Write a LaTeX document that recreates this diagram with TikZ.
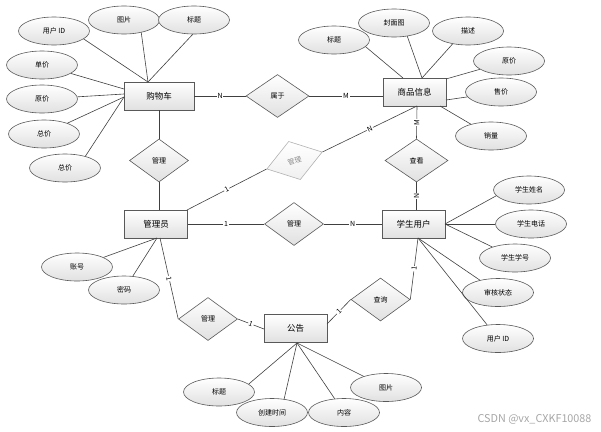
\documentclass[tikz,border=0pt]{standalone}
\usepackage{fontspec}
\setmainfont{Noto Sans CJK SC}
\usetikzlibrary{shapes.geometric}
\tikzset{
 ent/.style={rectangle, draw=black!65, line width=0.8pt, top color=white, bottom color=black!12, minimum width=63pt, minimum height=28pt, inner sep=0pt, font=\fontsize{8.5}{9}\selectfont},
 attr/.style={ellipse, draw=black!65, line width=0.6pt, top color=white, bottom color=black!12, minimum width=71pt, minimum height=28pt, inner sep=0pt, font=\fontsize{7}{8}\selectfont},
 rel/.style={diamond, draw=black!65, line width=0.6pt, top color=white, bottom color=black!12, minimum width=59pt, minimum height=43pt, inner sep=0pt, font=\fontsize{7}{8}\selectfont},
 link/.style={draw=black!75, line width=0.6pt},
 card/.style={fill=white, inner sep=0.8pt, font=\fontsize{7}{8}\selectfont},
}
\begin{document}
\begin{tikzpicture}[x=1pt,y=-1pt]
\useasboundingbox (0,0) rectangle (601,431);
% entities
\node[ent, minimum width=70pt] (cart) at (159,96) {购物车};
\node[ent] (goods) at (414.5,92) {商品信息};
\node[ent] (admin) at (156,224) {管理员};
\node[ent] (stu) at (413.5,224) {学生用户};
\node[ent] (notice) at (295.5,328.5) {公告};
% relations
\node[rel, minimum width=63pt] (shuyu) at (277.5,96) {属于};
\node[rel] (gl1) at (159,160.5) {管理};
\node[rel, draw=black!30, top color=white, bottom color=black!6, text=black!45, rotate=17, minimum width=58pt, minimum height=40pt] (gl2) at (294.5,160.5) {管理};
\node[rel] (gl3) at (294,224) {管理};
\node[rel, minimum width=63pt] (chakan) at (416.5,160.5) {查看};
\node[rel] (chaxun) at (380.5,299.5) {查询};
\node[rel] (gl4) at (208,319) {管理};
% cart attributes
\node[attr] (cuid) at (54,31) {用户 ID};
\node[attr] (cpic) at (124,20) {图片};
\node[attr] (ctitle) at (194,20) {标题};
\node[attr] (cunit) at (42,65) {单价};
\node[attr] (corig) at (42,99) {原价};
\node[attr] (ctot1) at (44,134) {总价};
\node[attr] (ctot2) at (65,168) {总价};
% goods attributes
\node[attr] (gtitle) at (334,40) {标题};
\node[attr] (gcover) at (394,23) {封面图};
\node[attr] (gdesc) at (468,31) {描述};
\node[attr] (gorig) at (509,61) {原价};
\node[attr] (gsale) at (501,92) {售价};
\node[attr] (gsold) at (491,136) {销量};
% student attributes
\node[attr] (sname) at (529,190) {学生姓名};
\node[attr] (sphone) at (531,224) {学生电话};
\node[attr] (sno) at (515,258) {学生学号};
\node[attr] (sstate) at (498,292.5) {审核状态};
\node[attr] (suid) at (498,338.5) {用户 ID};
% admin attributes
\node[attr] (acc) at (77,267) {账号};
\node[attr] (pwd) at (124,290) {密码};
% notice attributes
\node[attr] (ntitle) at (219,392) {标题};
\node[attr] (ntime) at (272,412.5) {创建时间};
\node[attr] (ncont) at (344,412.5) {内容};
\node[attr] (npic) at (386,387.5) {图片};
% attach points
\coordinate (cT) at (148,82);
\coordinate (cL1) at (124,89);
\coordinate (cL2) at (124,94);
\coordinate (cL3) at (124,97);
\coordinate (gT1) at (403,78);
\coordinate (gT2) at (422,78);
\coordinate (gR1) at (446,79);
\coordinate (gR2) at (446,100);
\coordinate (gB1) at (440,106);
\coordinate (gB) at (417,106);
\coordinate (sR) at (445,224);
\coordinate (sB) at (418,238);
\coordinate (aB1) at (157,238);
\coordinate (aB2) at (160,238);
\coordinate (aTR) at (187,210);
\coordinate (nB) at (297,343);
\coordinate (nR) at (327,324);
\coordinate (nL) at (264,329);
% attribute links
\draw[link] (cuid.-15) -- (cT);
\draw[link] (cpic.-36) -- (cT);
\draw[link] (ctitle.-95) -- (cT);
\draw[link] (cunit) -- (cL1);
\draw[link] (corig) -- (cL2);
\draw[link] (ctot1) -- (cL3);
\draw[link] (ctot2.30) -- (cL3);
\draw[link] (gtitle.-12) -- (gT1);
\draw[link] (gcover.-45) -- (gT2);
\draw[link] (gdesc.-140) -- (gT2);
\draw[link] (gorig) -- (gR1);
\draw[link] (gsale) -- (gR2);
\draw[link] (gsold) -- (gB1);
\draw[link] (sname.190) -- (sR);
\draw[link] (sphone) -- (sR);
\draw[link] (sno) -- (sR);
\draw[link] (sstate) -- (sB);
\draw[link] (suid) -- (sB);
\draw[link] (acc) -- (aB1);
\draw[link] (pwd) -- (aB1);
\draw[link] (ntitle.15) -- (nB);
\draw[link] (ntime.48) -- (nB);
\draw[link] (ncont) -- (nB);
\draw[link] (npic) -- (nB);
% relationship links
\draw[link] (cart.east) -- node[card]{N} (shuyu.west);
\draw[link] (shuyu.east) -- node[card]{M} (shuyu.east -| goods.west);
\draw[link] (cart.south -| gl1) -- (gl1.north);
\draw[link] (gl1.south) -- (gl1.south |- admin.north);
\draw[link] (aTR) -- node[card, sloped]{1} (gl2.west);
\draw[link] (gl2.east) -- node[card, sloped]{N} (gB);
\draw[link] (admin.east) -- node[card]{1} (gl3.west);
\draw[link] (gl3.east) -- node[card]{N} (stu.west);
\draw[link] (gB) -- node[card, rotate=90]{M} (chakan.north);
\draw[link] (chakan.south) -- node[card, rotate=90]{N} (chakan.south |- stu.north);
\draw[link] (sB) -- node[card, sloped]{1} (chaxun.east);
\draw[link] (chaxun.west) -- node[card, sloped]{1} (nR);
\draw[link] (aB2) -- node[card, sloped]{1} (gl4.west);
\draw[link] (gl4.east) -- node[card, sloped]{1} (nL);
% watermark
\node[text=black!35, font=\fontsize{10.8}{12}\selectfont, inner sep=0pt] (wm) at (534.5,419) {CSDN @vx\_CXKF10088};
\end{tikzpicture}
\end{document}
